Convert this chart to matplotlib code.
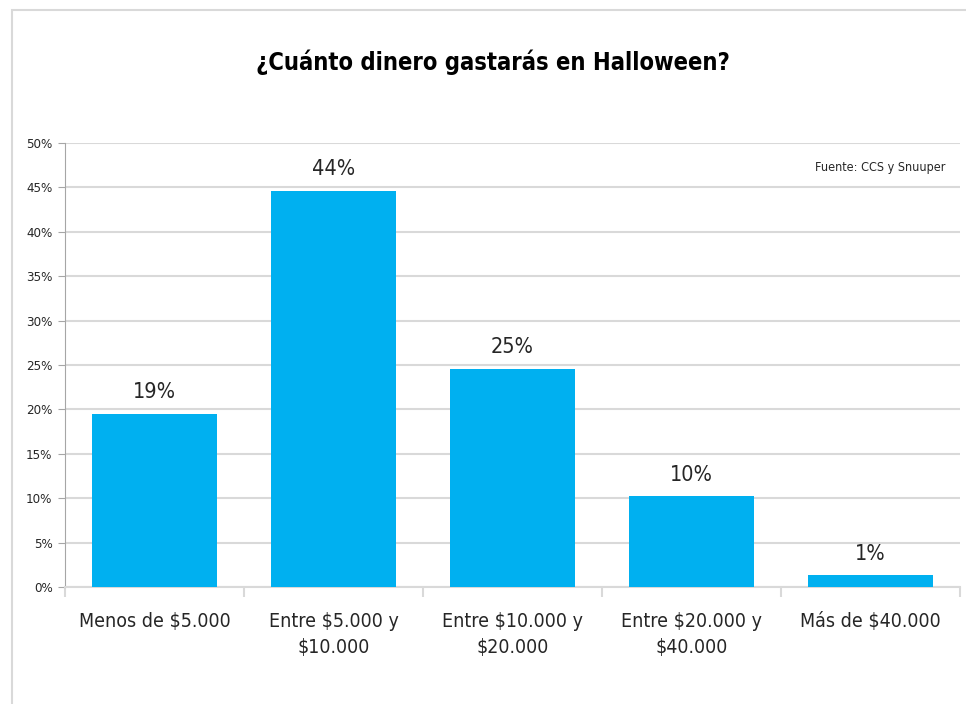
import matplotlib.pyplot as plt
from matplotlib.patches import Rectangle
from matplotlib.ticker import FuncFormatter, MultipleLocator

plt.rcParams['font.family'] = ['Liberation Sans Narrow', 'DejaVu Sans']
plt.rcParams['font.stretch'] = 'condensed'

# --------------- datos --------------- #
categorias = ['Menos de $5.000', 'Entre $5.000 y\n$10.000', 'Entre $10.000 y\n$20.000',
              'Entre $20.000 y\n$40.000', 'Más de $40.000']
valores = [19.5, 44.6, 24.6, 10.2, 1.3]
etiquetas = ['19%', '44%', '25%', '10%', '1%']

color_barra = '#00B0F0'
color_texto = '#262626'
color_grid = '#d9d9d9'

fig = plt.figure(figsize=(9.66, 7.04), dpi=100)
ax = fig.add_axes([0.0673, 0.1662, 0.9265, 0.6307])

# marco del gráfico
fig.patches.append(Rectangle((12 / 966, -0.01), 1.0, 1 - 10 / 704 + 0.01, transform=fig.transFigure,
                             fill=False, edgecolor='#d9d9d9', linewidth=1.5))

x = range(len(categorias))
barras = ax.bar(x, valores, width=0.7, color=color_barra, zorder=3)
for b, t in zip(barras, etiquetas):
    ax.text(b.get_x() + b.get_width() / 2, b.get_height() + 1.3, t,
            ha='center', va='bottom', fontsize=15.5, color=color_texto)

ax.set_xlim(-0.5, len(categorias) - 0.5)
ax.set_ylim(0, 50)
ax.yaxis.set_major_locator(MultipleLocator(5))
ax.yaxis.set_major_formatter(FuncFormatter(lambda v, p: f'{v:.0f}%'))
ax.grid(axis='y', color=color_grid, linewidth=1.5, zorder=0)

ax.set_xticks(list(x))
ax.set_xticklabels(categorias, fontsize=14, color=color_texto, linespacing=1.45)
ax.set_xticks([i - 0.5 for i in range(len(categorias) + 1)], minor=True)
ax.tick_params(axis='x', which='major', length=0, pad=18)
ax.tick_params(axis='x', which='minor', length=7, color=color_grid, width=1.5)
ax.tick_params(axis='y', length=5, color='#a6a6a6', labelsize=9.5, labelcolor=color_texto, pad=4)

for s in ['top', 'right']:
    ax.spines[s].set_visible(False)
ax.spines['left'].set_color('#a6a6a6')
ax.spines['bottom'].set_color(color_grid)
ax.spines['bottom'].set_linewidth(1.5)

fig.text(0.51, 0.912, '¿Cuánto dinero gastarás en Halloween?', ha='center', va='center',
         fontsize=17, fontweight='bold', color='black')
ax.text(0.984, 0.945, 'Fuente: CCS y Snuuper', transform=ax.transAxes, ha='right', va='center',
        fontsize=9, color=color_texto)

plt.savefig('out.png', dpi=100)
